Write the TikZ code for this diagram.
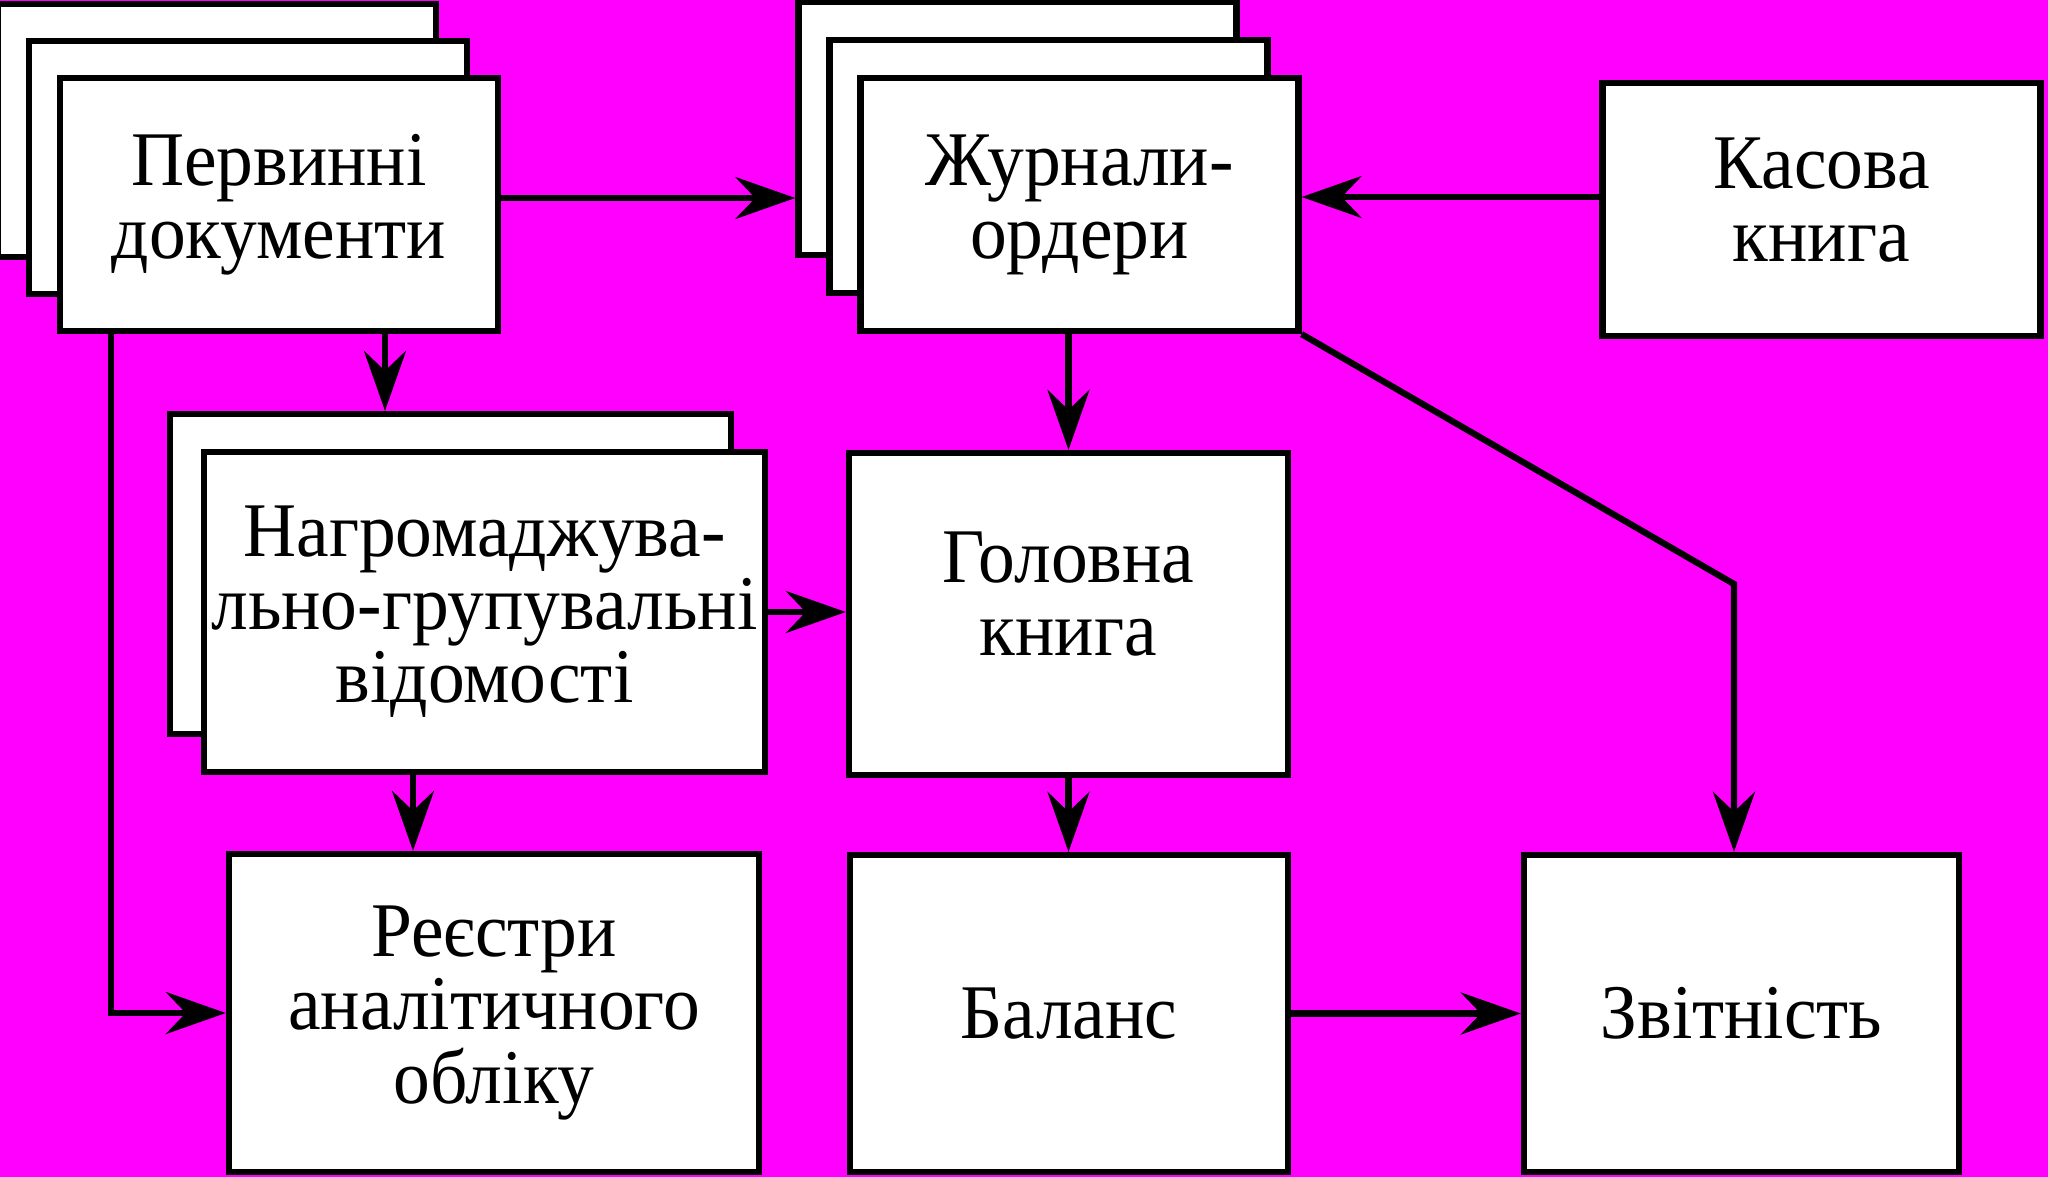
\documentclass[tikz,border=0pt]{standalone}
\usepackage{fontspec}
\setmainfont{Liberation Serif}[FakeStretch=0.95]
\usetikzlibrary{arrows.meta}
\definecolor{bgpink}{RGB}{255,0,255}
\begin{document}
\begin{tikzpicture}[boxstyle/.style={draw,fill=white,line width=1.8pt,minimum width=4.38cm,minimum height=2.53cm,align=center,inner sep=0pt,font=\fontsize{22}{20.8}\selectfont},
arrstyle/.style={line width=1.8pt,-{Stealth[length=0.6cm,width=0.42cm,inset=0.2cm]}}]
\useasboundingbox (0,0) rectangle (20.48,-11.77);
\fill[bgpink] (0,0) rectangle (20.48,-11.77);
% stacked copies
\foreach \k in {2,1}
{\node[boxstyle](perv\k) at (2.79-0.31*\k,-2.045+0.37*\k){};
\node[boxstyle](jrn\k) at (10.795-0.31*\k,-2.045+0.38*\k){};
}
\node[boxstyle,minimum width=5.61cm,minimum height=3.2cm](nagr1) at (4.505,-5.74){};
\node[boxstyle](perv) at (2.79,-2.045){Первинні\\документи};
\node[boxstyle](jrn) at (10.795,-2.045){Журнали-\\ордери};
\node[boxstyle,text depth=0.2cm](kas) at (18.215,-2.095){Касова\\книга};
\node[boxstyle,minimum width=5.61cm,minimum height=3.2cm](nagr) at (4.845,-6.12){Нагромаджува-\\льно-групувальні\\відомості};
\node[boxstyle,minimum width=4.39cm,minimum height=3.22cm,text depth=0.4cm](golov) at (10.685,-6.14){Головна\\книга};
\node[boxstyle,minimum width=5.3cm,minimum height=3.18cm](reyes) at (4.94,-10.13){Реєстри\\аналітичного\\обліку};
\node[boxstyle,minimum height=3.17cm](bal) at (10.69,-10.135){Баланс};
\node[boxstyle,minimum width=4.35cm,minimum height=3.17cm](zvit) at (17.415,-10.135){Звітність};
\coordinate (kink) at (17.34,-5.84);

\draw[arrstyle] ([yshift=0.065cm]perv.east) -- ([yshift=0.065cm]perv.east -| jrn2.west);
\draw[arrstyle] ([yshift=0.125cm]kas.west) -- ([yshift=0.125cm]kas.west -| jrn.east);
\draw[arrstyle] ([xshift=1.06cm]perv.south) -- ([xshift=1.06cm]perv.south |- nagr1.north);
\draw[arrstyle] ([xshift=-1.68cm]perv.south) |- (reyes.west);
\draw[arrstyle] (nagr.east) -- (nagr.east -| golov.west);
\draw[arrstyle] ([xshift=-0.715cm]nagr.south) -- ([xshift=-0.715cm]nagr.south |- reyes.north);
\draw[arrstyle] (golov.north |- jrn.south) -- (golov.north);
\draw[arrstyle] (golov.south) -- (golov.south |- bal.north);
\draw[arrstyle] (bal.east) -- (bal.east -| zvit.west);
\draw[arrstyle] (jrn.south east) -- (kink) -- (kink |- zvit.north);
\end{tikzpicture}
\end{document}
